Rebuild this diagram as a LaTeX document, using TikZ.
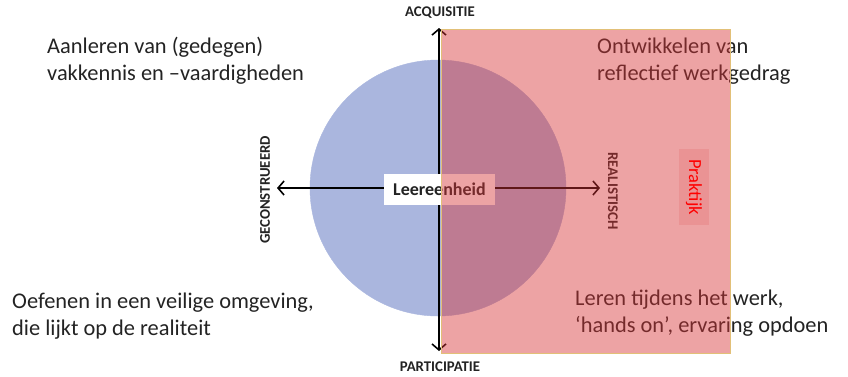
\documentclass[tikz,border=0pt]{standalone}
\usepackage{fontspec}
\setmainfont{Carlito}
\usepackage{tikz}
\usetikzlibrary{positioning,arrows.meta}
\usepackage{xcolor}
\definecolor{circleblue}{RGB}{170,182,222}
\definecolor{praktijkred}{RGB}{215,52,54}
\definecolor{rectborder}{RGB}{226,192,120}
\definecolor{labelgrey}{RGB}{35,35,35}

\begin{document}
\begin{tikzpicture}[x=1pt,y=-1pt,
  quote/.style={align=left,anchor=west,inner sep=0pt,font=\fontsize{22.4}{27}\selectfont,text=labelgrey},
  axislabel/.style={inner sep=0pt,font=\fontsize{14.8}{16}\selectfont\bfseries,text=labelgrey},
  axisline/.style={line width=1.6pt,{Straight Barb[length=6pt,width=14pt]}-{Straight Barb[length=6pt,width=14pt]}}]
\useasboundingbox (0,0) rectangle (848,376);
\filldraw [circleblue] (438,188) circle (128);
\node[quote] (aanleren) at (47,61) {Aanleren van (gedegen)\\vakkennis en –vaardigheden};
\node[quote] (ontwikkelen) at (597,61) {Ontwikkelen van\\reflectief werkgedrag};
\node[quote] (oefenen) at (12,316) {Oefenen in een veilige omgeving,\\die lijkt op de realiteit};
\node[quote] (leren) at (575,313) {Leren tijdens het werk,\\‘hands on’, ervaring opdoen};
\coordinate (acq) at (439,28);
\coordinate (par) at (439,351);
\coordinate (geo) at (277,188);
\coordinate (rea) at (600,188);
\draw [axisline](acq)--(par);
\draw [axisline](geo)--(rea);
\node[fill=white,minimum width=111pt,minimum height=31pt,inner sep=0pt,font=\fontsize{18}{20}\selectfont\bfseries,text=labelgrey] (leereenheid) at (439.5,189.5) {Leereenheid};
\node[axislabel] (acquisitie) at (440,13) {ACQUISITIE};
\node[axislabel] (participatie) at (440,367) {PARTICIPATIE};
\node[axislabel,rotate=90] (geconstrueerd) at (265,190) {GECONSTRUEERD};
\node[axislabel,rotate=-90] (realistisch) at (613,191) {REALISTISCH};
\filldraw [draw=rectborder,fill=praktijkred,fill opacity=0.45] (441,29) rectangle (730,353);
\node[rotate=-90,fill=praktijkred,fill opacity=0.15,text opacity=1,text=red,minimum width=76pt,minimum height=30pt,inner sep=0pt,font=\fontsize{18.5}{20}\selectfont] (praktijk) at (694,187) {Praktijk};
\end{tikzpicture}
\end{document}
